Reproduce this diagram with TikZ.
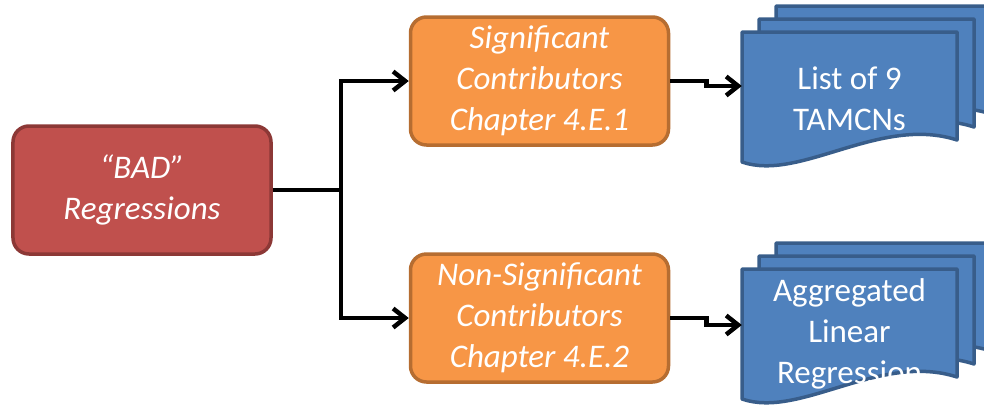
\documentclass[tikz,border=0pt]{standalone}
\usepackage{fontspec}
\setmainfont{Carlito}
\usetikzlibrary{arrows.meta}
\definecolor{redfill}{HTML}{C0504D}
\definecolor{redline}{HTML}{8C3836}
\definecolor{orfill}{HTML}{F79646}
\definecolor{orline}{HTML}{B66D31}
\definecolor{bluefill}{HTML}{4F81BD}
\definecolor{blueline}{HTML}{385D8A}
\tikzset{
  box/.style={rounded corners=16bp, line width=3.5bp, minimum width=258bp, minimum height=128bp,
    align=center, text=white, inner sep=0pt, font=\fontsize{33bp}{41bp}\selectfont\itshape},
  redbox/.style={box, fill=redfill, draw=redline},
  orbox/.style={box, fill=orfill, draw=orline},
  doctext/.style={minimum width=215bp, minimum height=130bp, align=center, text=white, inner sep=0pt,
    font=\fontsize{33bp}{41bp}\selectfont},
  docpage/.style={fill=bluefill, draw=blueline, line width=3.5bp, line join=round},
  conn/.style={line width=4.5bp, draw=black},
  arr/.style={conn, -{Straight Barb[length=12bp, width=19bp]}}
}
\newcommand\mydocpage[2]{%
  \draw[docpage] (#1,#2) -- ++(215,0) -- ++(0,108)
    .. controls ++(-77,-25) and ++(58,20) .. ++(-215,22) -- cycle;}
\begin{document}
\begin{tikzpicture}[x=1bp, y=-1bp]
\useasboundingbox (0,0) rectangle (984,404);
\clip (0,0) rectangle (984,404);
% nodes
\node[redbox] (bad) at (142,190) {``BAD''\\Regressions};
\node[orbox] (sig) at (539.5,81) {Significant\\Contributors\\Chapter 4.E.1};
\node[orbox] (non) at (539.5,318) {Non-Significant\\Contributors\\Chapter 4.E.2};
% documents
\mydocpage{776}{6}
\mydocpage{759}{19}
\mydocpage{742}{32}
\mydocpage{776}{243}
\mydocpage{759}{256}
\mydocpage{742}{269}
\node[doctext] (lst) at (849.5,99) {List of 9\\TAMCNs};
\node[doctext] (agg) at (849.5,334) {Aggregated\\Linear\\Regression};
% connectors
\coordinate (jn) at (341,190);
\draw[conn] (bad.east) -- (jn);
\draw[arr] (jn) |- (sig.west);
\draw[arr] (jn) |- (non.west);
\draw[arr] (sig.east) -- ++(36,0) |- ([yshift=13bp]lst.west);
\draw[arr] (non.east) -- ++(36,0) |- ([yshift=9bp]agg.west);
\end{tikzpicture}
\end{document}
